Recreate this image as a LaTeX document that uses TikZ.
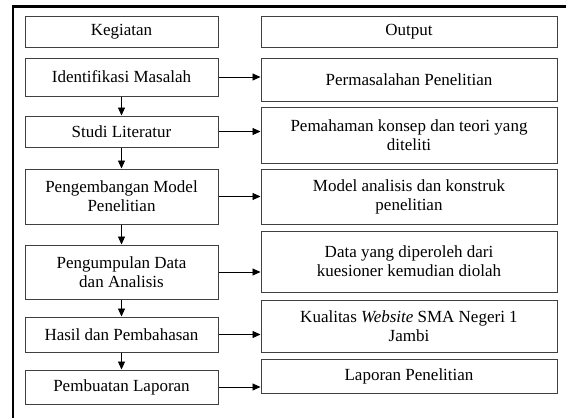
\documentclass[tikz,border=0pt]{standalone}
\usepackage{fontspec}
\setmainfont{Liberation Serif}
\usetikzlibrary{arrows.meta}
\begin{document}
\begin{tikzpicture}[x=1pt,y=-1pt,
  box/.style={draw=black!75, line width=1pt, inner sep=0pt, align=center,
    font=\fontsize{17}{19}\selectfont},
  lbox/.style={box, minimum width=193pt},
  rbox/.style={box, minimum width=296pt},
  arr/.style={line width=0.9pt, -{Triangle[length=8pt,width=7pt]}}]
\useasboundingbox (0,0) rectangle (566,418);
\begin{scope}
\clip (0,0) rectangle (566,418);
\draw[line width=2.2pt] (13,6.5) rectangle (620,470);
\end{scope}
% left column
\node[lbox, minimum height=31pt] (l0) at (121.5,31.5) {Kegiatan};
\node[lbox, minimum height=38pt] (l1) at (121.5,77) {Identifikasi Masalah};
\node[lbox, minimum height=31pt] (l2) at (121.5,131.5) {Studi Literatur};
\node[lbox, minimum height=55pt] (l3) at (121.5,196.5) {Pengembangan Model\\Penelitian};
\node[lbox, minimum height=54pt] (l4) at (121.5,272) {Pengumpulan Data\\dan Analisis};
\node[lbox, minimum height=35pt] (l5) at (121.5,334.5) {Hasil dan Pembahasan};
\node[lbox, minimum height=34pt] (l6) at (121.5,387) {Pembuatan Laporan};
% right column
\node[rbox, minimum height=31pt] (r0) at (409,31.5) {Output};
\node[rbox, minimum height=43pt] (r1) at (409,79.5) {Permasalahan Penelitian};
\node[rbox, minimum height=56pt] (r2) at (409,135) {Pemahaman konsep dan teori yang\\diteliti};
\node[rbox, minimum height=55pt] (r3) at (409,196.5) {Model analisis dan konstruk\\penelitian};
\node[rbox, minimum height=61pt] (r4) at (409,261.5) {Data yang diperoleh dari\\kuesioner kemudian diolah};
\node[rbox, minimum height=52pt] (r5) at (409,326) {Kualitas \textit{Website} SMA Negeri 1\\Jambi};
\node[rbox, minimum height=34pt] (r6) at (409,376) {Laporan Penelitian};
% vertical arrows
\foreach \a/\b in {l1/l2,l2/l3,l3/l4,l4/l5,l5/l6}
  \draw[arr] (\a.south) -- (\b.north);
% horizontal arrows
\foreach \i in {1,...,6}
  \draw[arr] (l\i.east) -- (l\i.east -| r\i.west);
\end{tikzpicture}
\end{document}
